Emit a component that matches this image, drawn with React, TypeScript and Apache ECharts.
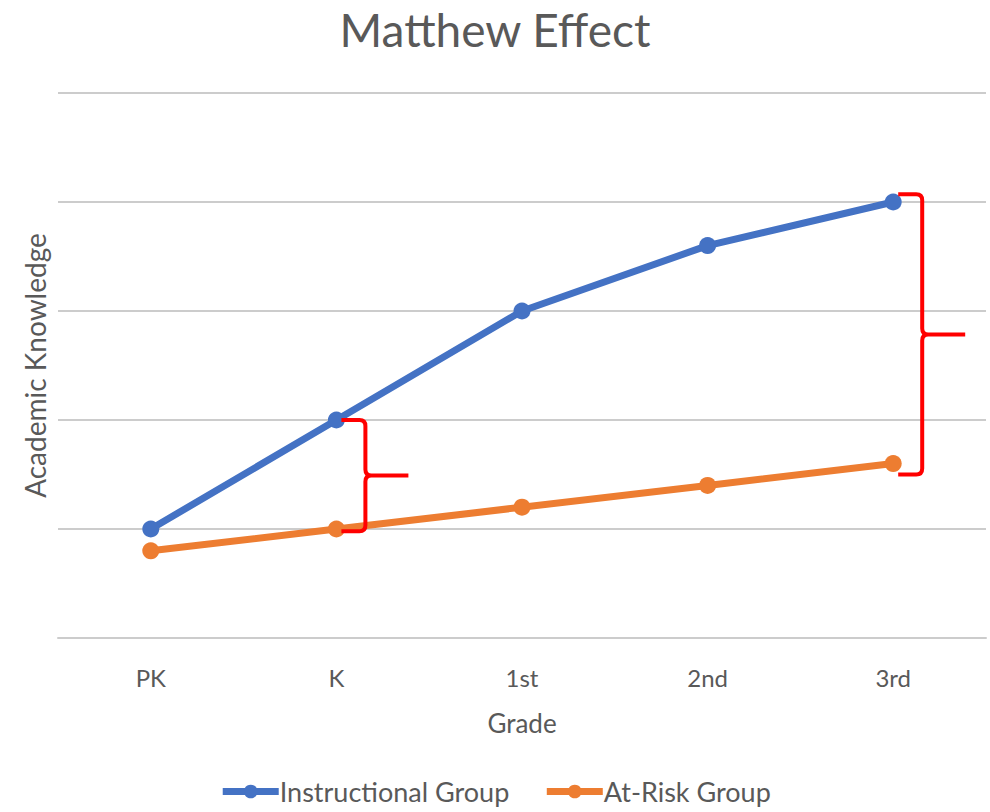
import React, { useEffect, useRef } from "react";
import * as echarts from "echarts";

const categories = ["PK", "K", "1st", "2nd", "3rd"];
const instructionalGroup = [1.0, 2.0, 3.0, 3.6, 4.0];
const atRiskGroup = [0.8, 1.0, 1.2, 1.4, 1.6];
// braces: [category index, top value, bottom value]
const braces = [
  [1, 2.0, 0.98],
  [4, 4.07, 1.5],
];

const TEXT = "#595959";
const FONT = "Lato, 'Open Sans', sans-serif";

export default function App() {
  const ref = useRef<HTMLDivElement>(null);
  useEffect(() => {
    const chart = echarts.init(ref.current!, null, { renderer: "svg" });
    chart.setOption({
      animation: false,
      backgroundColor: "#fff",
      textStyle: { fontFamily: FONT, color: TEXT },
      title: {
        text: "Matthew Effect",
        left: "center",
        top: 4,
        padding: 0,
        textStyle: { fontSize: 46, lineHeight: 50, fontWeight: "normal", color: TEXT, fontFamily: FONT },
      },
      legend: {
        top: 773,
        left: "center",
        itemWidth: 56,
        itemHeight: 17,
        itemGap: 34,
        lineStyle: { width: 7 },
        textStyle: { fontSize: 27, color: TEXT, fontFamily: FONT, padding: [0, 0, 0, -4] },
        data: ["Instructional Group", "At-Risk Group"],
      },
      grid: { left: 58, right: 4, top: 93, bottom: 174, containLabel: false },
      xAxis: {
        type: "category",
        data: categories,
        boundaryGap: true,
        axisLine: { show: true, lineStyle: { color: "#cccccc", width: 2 } },
        axisTick: { show: false },
        axisLabel: { fontSize: 24, color: TEXT, margin: 27, fontFamily: FONT },
        name: "Grade",
        nameLocation: "middle",
        nameGap: 72,
        nameTextStyle: { fontSize: 26, color: TEXT, fontFamily: FONT },
      },
      yAxis: {
        type: "value",
        min: 0,
        max: 5,
        interval: 1,
        axisLabel: { show: false },
        axisLine: { show: false },
        axisTick: { show: false },
        splitLine: { lineStyle: { color: "#cccccc", width: 2 } },
        name: "Academic Knowledge",
        nameLocation: "middle",
        nameRotate: 90,
        nameGap: 9,
        nameTextStyle: { fontSize: 28, color: TEXT, fontFamily: FONT },
      },
      series: [
        {
          name: "Instructional Group",
          type: "line",
          data: instructionalGroup,
          symbol: "circle",
          symbolSize: 17,
          itemStyle: { color: "#4472C4" },
          lineStyle: { color: "#4472C4", width: 7 },
          z: 3,
        },
        {
          name: "At-Risk Group",
          type: "line",
          data: atRiskGroup,
          symbol: "circle",
          symbolSize: 17,
          itemStyle: { color: "#ED7D31" },
          lineStyle: { color: "#ED7D31", width: 7 },
          z: 3,
        },
        {
          type: "custom",
          coordinateSystem: "cartesian2d",
          data: braces,
          z: 4,
          silent: true,
          renderItem: (_params: any, api: any) => {
            const top = api.coord([api.value(0), api.value(1)]);
            const bot = api.coord([api.value(0), api.value(2)]);
            const cx = top[0];
            const yt = top[1];
            const yb = bot[1];
            const ym = (yt + yb) / 2;
            const x0 = cx + 5;
            const xv = cx + 29;
            const xt = cx + 72;
            const r = 6;
            const d =
              `M${x0},${yt} L${xv - r},${yt} Q${xv},${yt} ${xv},${yt + r} ` +
              `L${xv},${ym - r} Q${xv},${ym} ${xv + r},${ym} L${xt},${ym} ` +
              `M${xv + r},${ym} Q${xv},${ym} ${xv},${ym + r} ` +
              `L${xv},${yb - r} Q${xv},${yb} ${xv - r},${yb} L${x0},${yb}`;
            return {
              type: "path",
              shape: { pathData: d },
              style: { stroke: "#FF0000", lineWidth: 4, fill: "none" },
            };
          },
        },
      ],
    });
    return () => chart.dispose();
  }, []);
  return <div ref={ref} style={{ width: 990, height: 812, position: "absolute", left: 0, top: 0 }} />;
}
